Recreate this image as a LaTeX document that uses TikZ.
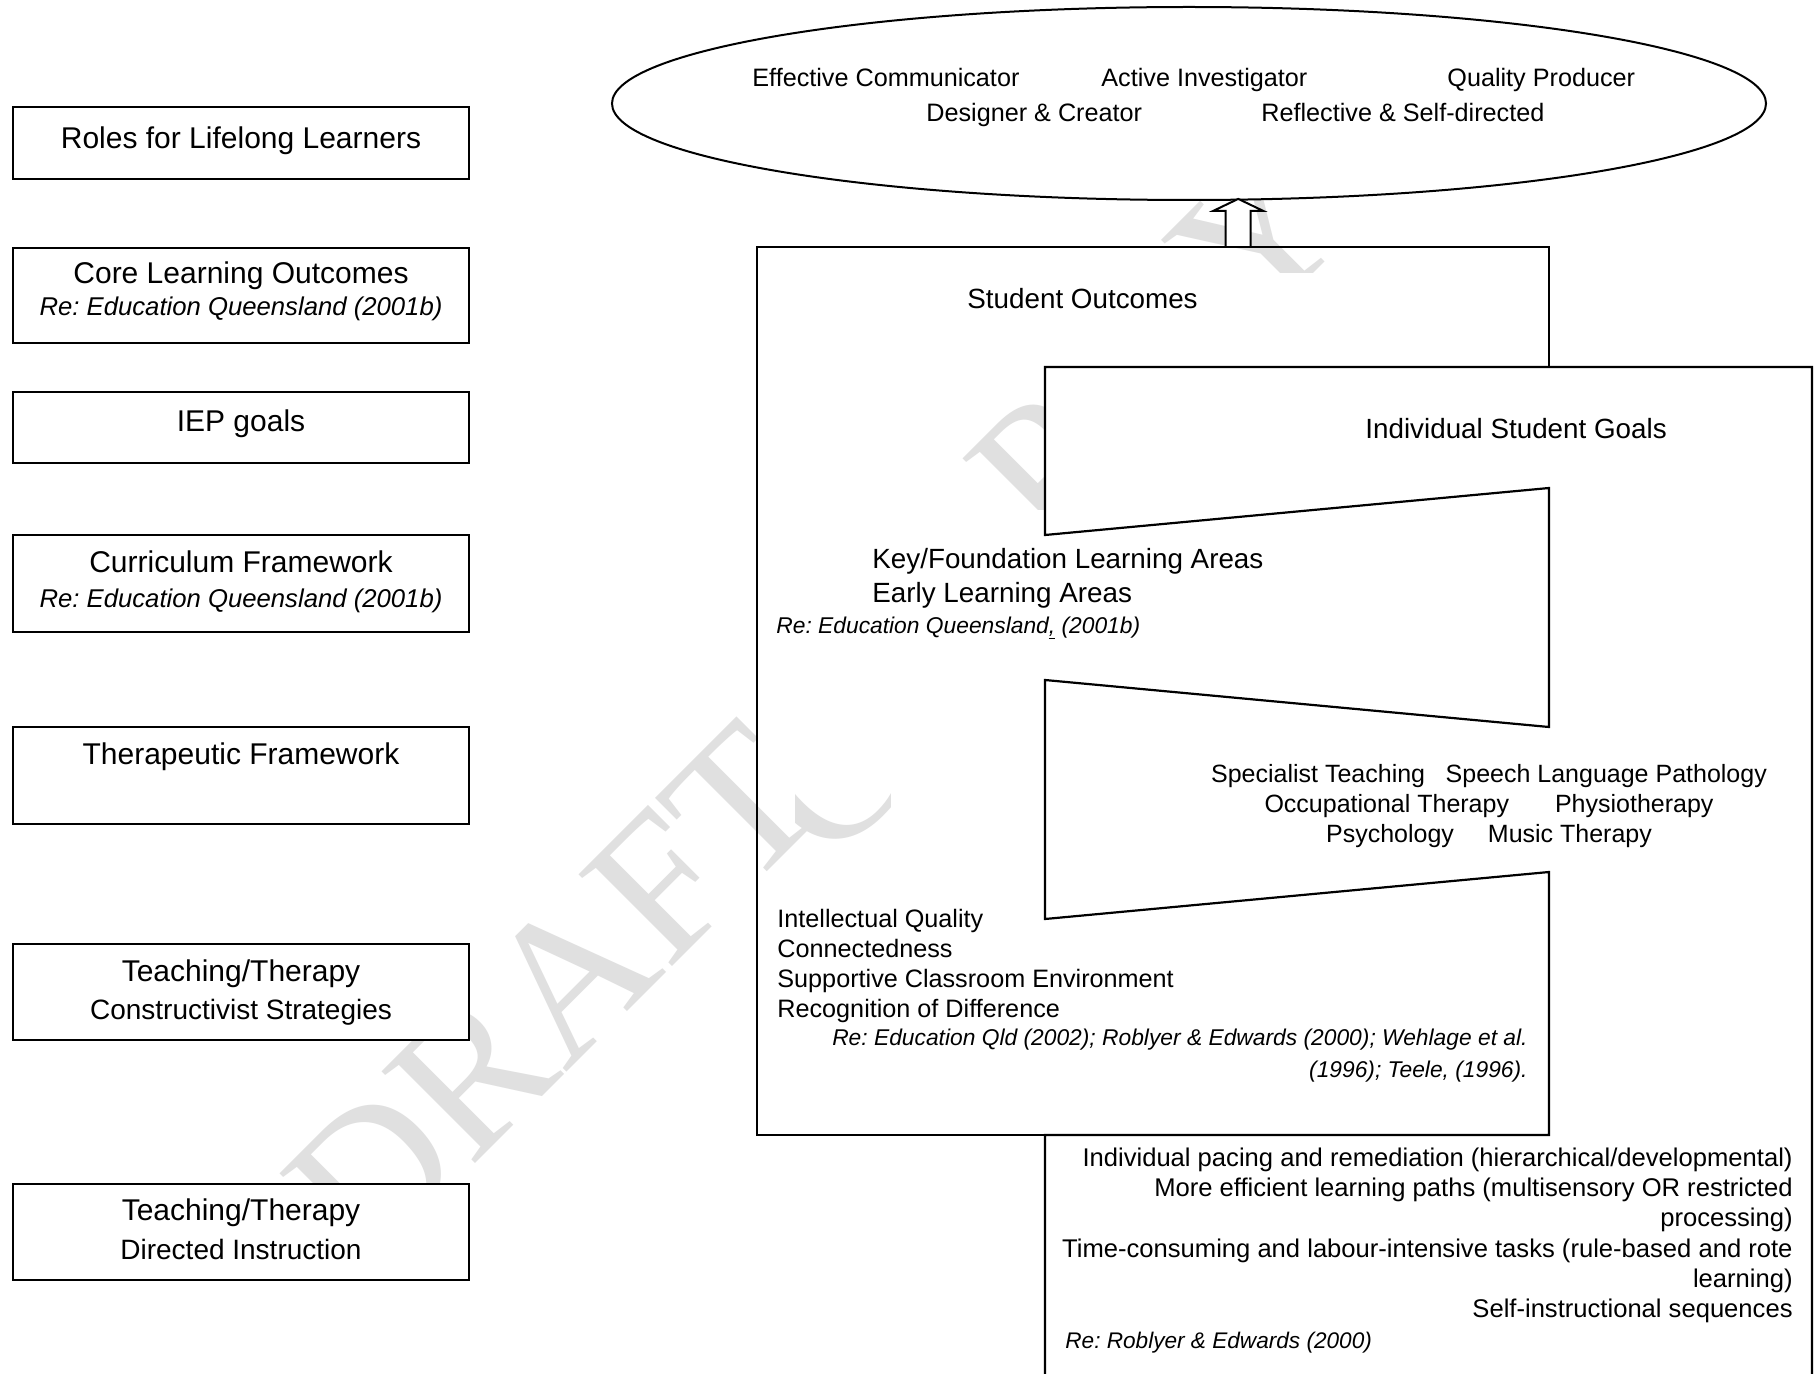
\documentclass[tikz,border=0pt]{standalone}
\usepackage{fontspec}
\setmainfont{Liberation Sans}
\newfontfamily\wmfont{Liberation Serif}
\usetikzlibrary{shapes.geometric,calc}
\newcommand{\mysz}[1]{\fontsize{#1}{#1}\selectfont}
\frenchspacing
\begin{document}
\begin{tikzpicture}[x=0.5pt,y=-0.5pt,
  lbox/.style={draw,line width=1.1pt,fill=white,minimum width=228pt,inner sep=0pt},
  tx/.style={inner sep=0pt,anchor=base},
  txl/.style={inner sep=0pt,anchor=base west},
  txr/.style={inner sep=0pt,anchor=base east},
  big/.style={font=\mysz{15}},
  sub/.style={font=\mysz{14}},
  refl/.style={font=\mysz{12.85}\itshape},
  ell/.style={font=\mysz{12.6}},
  mid/.style={font=\mysz{13.9}},
  iq/.style={font=\mysz{12.6}},
  spec/.style={font=\mysz{12.5}},
  low/.style={font=\mysz{12.8}},
  cite/.style={font=\mysz{11.4}\itshape},
  wm/.style={inner sep=0pt, rotate=45, font=\wmfont\mysz{100}, text=black!12},
  frame/.style={fill=white,draw=none},
  thick line/.style={line width=1.1pt}
]
\useasboundingbox (0,0) rectangle (1819,1374);
\clip (0,0) rectangle (1819,1374);
\fill[white] (0,0) rectangle (1819,1374);

% watermark
\node[wm] (wmd) at (554,992) {DRAFT};
\begin{scope}
  \clip (795,770) rectangle (890,862);
  \node[wm] (wmc) at (830,775) {C};
\end{scope}
\node[wm] (wmo) at (908,612) {O};
\node[wm] (wmp) at (1045,470) {P};
\node[wm] (wmy) at (1257,237) {Y};

% left column
\node[lbox, minimum height=36pt]   (b1) at (241,143)   {};
\node[lbox, minimum height=47.5pt] (b2) at (241,295.5) {};
\node[lbox, minimum height=35.5pt] (b3) at (241,427.5) {};
\node[lbox, minimum height=48.5pt] (b4) at (241,583.5) {};
\node[lbox, minimum height=48.5pt] (b5) at (241,775.5) {};
\node[lbox, minimum height=48pt]   (b6) at (241,992)   {};
\node[lbox, minimum height=48pt]   (b7) at (241,1232)  {};

\node[tx,big]  (b1t) at (241,149)  {Roles for Lifelong Learners};
\node[tx,big]  (b2t) at (241,284)  {Core Learning Outcomes};
\node[tx,refl] (b2r) at (241,316)  {Re: Education Queensland (2001b)};
\node[tx,big]  (b3t) at (241,431)  {IEP goals};
\node[tx,big]  (b4t) at (241,572)  {Curriculum Framework};
\node[tx,refl] (b4r) at (241,607)  {Re: Education Queensland (2001b)};
\node[tx,big]  (b5t) at (241,764)  {Therapeutic Framework};
\node[tx,big]  (b6t) at (241,981)  {Teaching/Therapy};
\node[tx,sub]  (b6s) at (241,1019) {Constructivist Strategies};
\node[tx,big]  (b7t) at (241,1220) {Teaching/Therapy};
\node[tx,sub]  (b7s) at (241,1259) {Directed Instruction};

% ellipse
\node[draw, fill=white, ellipse, line width=1pt, minimum width=577pt, minimum height=96.5pt, inner sep=0pt] (roles) at (1189,103.5) {};
\node[txl,ell] (r1) at (752,87)   {Effective Communicator};
\node[txl,ell] (r2) at (1101,87)  {Active Investigator};
\node[txl,ell] (r3) at (1447,87)  {Quality Producer};
\node[txl,ell] (r4) at (926,121.5)  {Designer \& Creator};
\node[txl,ell] (r5) at (1261,121.5) {Reflective \& Self-directed};

% text frames inside the outer box
\fill[frame] (760,273) rectangle (1546,360);
\fill[frame] (760,510) rectangle (1546,725);
\fill[frame] (760,900) rectangle (1546,1133);

% outer box
\node[draw, thick line, minimum width=396pt, minimum height=444pt, inner sep=0pt] (so) at (1153,691) {};

% individual goals shape
\draw[thick line, fill=white, line join=miter]
  (1045,1135) -- (1045,1400) -- (1812,1400) -- (1812,367) -- (1045,367)
  -- (1045,535) -- (1549,488) -- (1549,727) -- (1045,680)
  -- (1045,919) -- (1549,872) -- (1549,1135) -- cycle;

% hollow arrow from box to ellipse
\coordinate (abase) at ($(so.north west)!0.6073!(so.north east)$);
\coordinate (atip) at ($(abase)+(0,-47)$);
\draw[line width=1pt, fill=white, line join=miter]
  ($(abase)+(-12.5,0)$) -- ($(abase)+(-12.5,-35)$) -- ($(abase)+(-25,-35)$)
  -- (atip) -- ($(abase)+(25,-35)$) -- ($(abase)+(12.5,-35)$) -- ($(abase)+(12.5,0)$);

% texts in outer box
\node[txl,mid] (sot) at (967,309) {Student Outcomes};
\node[txl,mid] (isg) at (1365,438) {Individual Student Goals};
\node[txl,mid] (kf1) at (872,568) {Key/Foundation Learning Areas};
\node[txl,mid] (kf2) at (872,602) {Early Learning Areas};
\node[txl,cite] (kf3) at (776,633) {Re: Education Queensland\underline{,} (2001b)};

\node[tx,spec] (sp1) at (1489,782) {Specialist Teaching\hspace{10.3pt}Speech Language Pathology};
\node[tx,spec] (sp2) at (1489,812) {Occupational Therapy\hspace{23pt}Physiotherapy};
\node[tx,spec] (sp3) at (1489,842) {Psychology\hspace{17pt}Music Therapy};

\node[txl,iq] (iq1) at (777,927)  {Intellectual Quality};
\node[txl,iq] (iq2) at (777,957)  {Connectedness};
\node[txl,iq] (iq3) at (777,987)  {Supportive Classroom Environment};
\node[txl,iq] (iq4) at (777,1017) {Recognition of Difference};
\node[txr,cite] (iq5) at (1528,1045) {Re: Education Qld (2002); Roblyer \& Edwards (2000); Wehlage et al.};
\node[txr,cite] (iq6) at (1528,1077) {(1996); Teele, (1996).};

\node[txr,low] (d1) at (1793,1166) {Individual pacing and remediation (hierarchical/developmental)};
\node[txr,low] (d2) at (1793,1196) {More efficient learning paths (multisensory OR restricted};
\node[txr,low] (d3) at (1793,1226) {processing)};
\node[txr,low] (d4) at (1793,1257) {Time-consuming and labour-intensive tasks (rule-based and rote};
\node[txr,low] (d5) at (1793,1287) {learning)};
\node[txr,low] (d6) at (1793,1317) {Self-instructional sequences};
\node[txl,font=\mysz{11.3}\itshape] (d7) at (1065,1348) {Re: Roblyer \& Edwards (2000)};
\end{tikzpicture}
\end{document}
